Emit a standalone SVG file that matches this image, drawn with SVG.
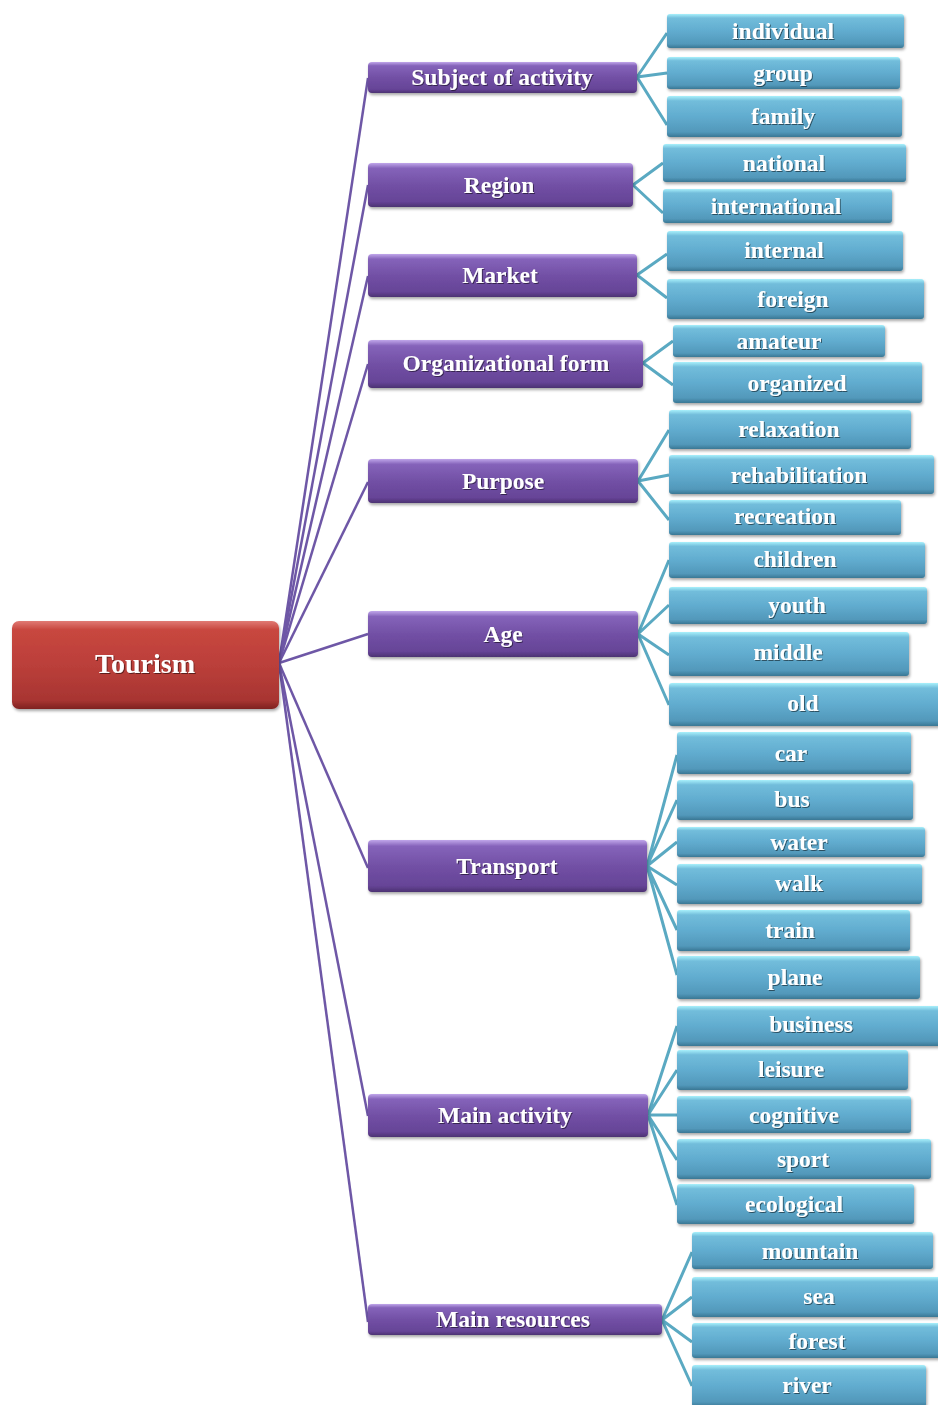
<svg xmlns="http://www.w3.org/2000/svg" width="938" height="1405" viewBox="0 0 938 1405">
<defs>
<linearGradient id="gP" x1="0" y1="0" x2="0" y2="1">
<stop offset="0" stop-color="#c0a6ea"/><stop offset="0.12" stop-color="#8563ba"/><stop offset="0.5" stop-color="#7250a5"/><stop offset="0.88" stop-color="#664497"/><stop offset="1" stop-color="#4c3272"/>
</linearGradient>
<linearGradient id="gB" x1="0" y1="0" x2="0" y2="1">
<stop offset="0" stop-color="#a8f0fb"/><stop offset="0.12" stop-color="#72bddb"/><stop offset="0.5" stop-color="#61accf"/><stop offset="0.88" stop-color="#5298ba"/><stop offset="1" stop-color="#3a7794"/>
</linearGradient>
<linearGradient id="gR" x1="0" y1="0" x2="0" y2="1">
<stop offset="0" stop-color="#e07a74"/><stop offset="0.1" stop-color="#c8473f"/><stop offset="0.5" stop-color="#bb3f3a"/><stop offset="0.9" stop-color="#a83532"/><stop offset="1" stop-color="#7e2220"/>
</linearGradient>
<filter id="sh" x="-10%" y="-20%" width="120%" height="150%">
<feGaussianBlur in="SourceAlpha" stdDeviation="1.5"/><feOffset dx="1" dy="2" result="b"/>
<feComponentTransfer><feFuncA type="linear" slope="0.35"/></feComponentTransfer>
<feMerge><feMergeNode/><feMergeNode in="SourceGraphic"/></feMerge>
</filter>
<filter id="ts" x="-5%" y="-20%" width="110%" height="140%">
<feGaussianBlur in="SourceAlpha" stdDeviation="0.6"/><feOffset dx="0.8" dy="1" result="b"/>
<feComponentTransfer><feFuncA type="linear" slope="0.5"/></feComponentTransfer>
<feMerge><feMergeNode/><feMergeNode in="SourceGraphic"/></feMerge>
</filter>
</defs>
<style>
.p{fill:url(#gP);filter:url(#sh)}
.b{fill:url(#gB);filter:url(#sh)}
.r{fill:url(#gR);filter:url(#sh)}
text{font-family:"Liberation Serif","DejaVu Serif",serif;font-weight:bold;fill:#ffffff;text-anchor:middle;dominant-baseline:central;filter:url(#ts)}
.t1{font-size:23.5px}
.t2{font-size:23.5px}
.t0{font-size:28px}
.cp{stroke:#6e57a6;stroke-width:2.5;fill:none}
.cb{stroke:#5aa9c2;stroke-width:3;fill:none}
</style>
<g id="connectors">
<path class="cp" d="M279 663 L368 78"/>
<path class="cp" d="M279 663 L368 185"/>
<path class="cp" d="M279 663 L368 276"/>
<path class="cp" d="M279 663 L368 364"/>
<path class="cp" d="M279 663 L368 482"/>
<path class="cp" d="M279 663 L368 634"/>
<path class="cp" d="M279 663 L368 868"/>
<path class="cp" d="M279 663 L368 1116"/>
<path class="cp" d="M279 663 L368 1322"/>
<path class="cb" d="M637 77 L667 33 M637 77 L667 73 M637 77 L667 125"/>
<path class="cb" d="M633 185 L663 163 M633 185 L663 213"/>
<path class="cb" d="M637 275 L667 254 M637 275 L667 298"/>
<path class="cb" d="M643 363 L673 341 M643 363 L673 385"/>
<path class="cb" d="M638 481 L669 430 M638 481 L669 475 M638 481 L669 520"/>
<path class="cb" d="M638 634 L669 560 M638 634 L669 605 M638 634 L669 655 M638 634 L669 705"/>
<path class="cb" d="M647 866 L677 755 M647 866 L677 800 M647 866 L677 842 M647 866 L677 885 M647 866 L677 930 M647 866 L677 975"/>
<path class="cb" d="M648 1115 L677 1026 M648 1115 L677 1070 M648 1115 L677 1115 M648 1115 L677 1160 M648 1115 L677 1205"/>
<path class="cb" d="M662 1320 L692 1252 M662 1320 L692 1297 M662 1320 L692 1342 M662 1320 L692 1386"/>
</g>
<g id="n-tourism"><rect class="r" x="12" y="621" width="267" height="88" rx="7"/><text class="t0" x="145" y="663">Tourism</text></g>
<g id="n-subject"><rect class="p" x="368" y="62" width="269" height="31" rx="4"/><text class="t1" x="502" y="77">Subject of activity</text></g>
<g id="n-region"><rect class="p" x="368" y="163" width="265" height="44" rx="4"/><text class="t1" x="499" y="185">Region</text></g>
<g id="n-market"><rect class="p" x="368" y="254" width="269" height="43" rx="4"/><text class="t1" x="500" y="275">Market</text></g>
<g id="n-orgform"><rect class="p" x="368" y="340" width="275" height="48" rx="4"/><text class="t1" x="506" y="363">Organizational form</text></g>
<g id="n-purpose"><rect class="p" x="368" y="459" width="270" height="44" rx="4"/><text class="t1" x="503" y="481">Purpose</text></g>
<g id="n-age"><rect class="p" x="368" y="611" width="270" height="46" rx="4"/><text class="t1" x="503" y="634">Age</text></g>
<g id="n-transport"><rect class="p" x="368" y="840" width="279" height="52" rx="4"/><text class="t1" x="507" y="866">Transport</text></g>
<g id="n-mainactivity"><rect class="p" x="368" y="1094" width="280" height="43" rx="4"/><text class="t1" x="505" y="1115">Main activity</text></g>
<g id="n-mainresources"><rect class="p" x="368" y="1304" width="294" height="31" rx="4"/><text class="t1" x="513" y="1319">Main resources</text></g>
<g id="n-individual"><rect class="b" x="667" y="14" width="237" height="34" rx="3"/><text class="t2" x="783" y="31">individual</text></g>
<g id="n-group"><rect class="b" x="667" y="57" width="233" height="32" rx="3"/><text class="t2" x="783" y="73">group</text></g>
<g id="n-family"><rect class="b" x="667" y="96" width="235" height="41" rx="3"/><text class="t2" x="783" y="116">family</text></g>
<g id="n-national"><rect class="b" x="663" y="144" width="243" height="38" rx="3"/><text class="t2" x="784" y="163">national</text></g>
<g id="n-international"><rect class="b" x="663" y="189" width="229" height="34" rx="3"/><text class="t2" x="776" y="206">international</text></g>
<g id="n-internal"><rect class="b" x="667" y="231" width="236" height="40" rx="3"/><text class="t2" x="784" y="250">internal</text></g>
<g id="n-foreign"><rect class="b" x="667" y="279" width="257" height="40" rx="3"/><text class="t2" x="793" y="299">foreign</text></g>
<g id="n-amateur"><rect class="b" x="673" y="325" width="212" height="32" rx="3"/><text class="t2" x="779" y="341">amateur</text></g>
<g id="n-organized"><rect class="b" x="673" y="362" width="249" height="41" rx="3"/><text class="t2" x="797" y="383">organized</text></g>
<g id="n-relaxation"><rect class="b" x="669" y="410" width="242" height="39" rx="3"/><text class="t2" x="789" y="429">relaxation</text></g>
<g id="n-rehabilitation"><rect class="b" x="669" y="455" width="265" height="39" rx="3"/><text class="t2" x="799" y="475">rehabilitation</text></g>
<g id="n-recreation"><rect class="b" x="669" y="500" width="232" height="35" rx="3"/><text class="t2" x="785" y="516">recreation</text></g>
<g id="n-children"><rect class="b" x="669" y="542" width="256" height="36" rx="3"/><text class="t2" x="795" y="559">children</text></g>
<g id="n-youth"><rect class="b" x="669" y="587" width="258" height="37" rx="3"/><text class="t2" x="797" y="605">youth</text></g>
<g id="n-middle"><rect class="b" x="669" y="632" width="240" height="44" rx="3"/><text class="t2" x="788" y="652">middle</text></g>
<g id="n-old"><rect class="b" x="669" y="683" width="272" height="43" rx="3"/><text class="t2" x="803" y="703">old</text></g>
<g id="n-car"><rect class="b" x="677" y="732" width="234" height="42" rx="3"/><text class="t2" x="791" y="753">car</text></g>
<g id="n-bus"><rect class="b" x="677" y="780" width="236" height="40" rx="3"/><text class="t2" x="792" y="799">bus</text></g>
<g id="n-water"><rect class="b" x="677" y="827" width="248" height="30" rx="3"/><text class="t2" x="799" y="842">water</text></g>
<g id="n-walk"><rect class="b" x="677" y="864" width="245" height="40" rx="3"/><text class="t2" x="799" y="883">walk</text></g>
<g id="n-train"><rect class="b" x="677" y="910" width="233" height="41" rx="3"/><text class="t2" x="790" y="930">train</text></g>
<g id="n-plane"><rect class="b" x="677" y="956" width="243" height="43" rx="3"/><text class="t2" x="795" y="977">plane</text></g>
<g id="n-business"><rect class="b" x="677" y="1006" width="264" height="40" rx="3"/><text class="t2" x="811" y="1024">business</text></g>
<g id="n-leisure"><rect class="b" x="677" y="1050" width="231" height="40" rx="3"/><text class="t2" x="791" y="1069">leisure</text></g>
<g id="n-cognitive"><rect class="b" x="677" y="1096" width="234" height="37" rx="3"/><text class="t2" x="794" y="1115">cognitive</text></g>
<g id="n-sport"><rect class="b" x="677" y="1139" width="254" height="40" rx="3"/><text class="t2" x="803" y="1159">sport</text></g>
<g id="n-ecological"><rect class="b" x="677" y="1184" width="237" height="40" rx="3"/><text class="t2" x="794" y="1204">ecological</text></g>
<g id="n-mountain"><rect class="b" x="692" y="1232" width="241" height="37" rx="3"/><text class="t2" x="810" y="1251">mountain</text></g>
<g id="n-sea"><rect class="b" x="692" y="1277" width="249" height="40" rx="3"/><text class="t2" x="819" y="1296">sea</text></g>
<g id="n-forest"><rect class="b" x="692" y="1323" width="249" height="35" rx="3"/><text class="t2" x="817" y="1341">forest</text></g>
<g id="n-river"><rect class="b" x="692" y="1365" width="234" height="42" rx="3"/><text class="t2" x="807" y="1385">river</text></g>
</svg>
